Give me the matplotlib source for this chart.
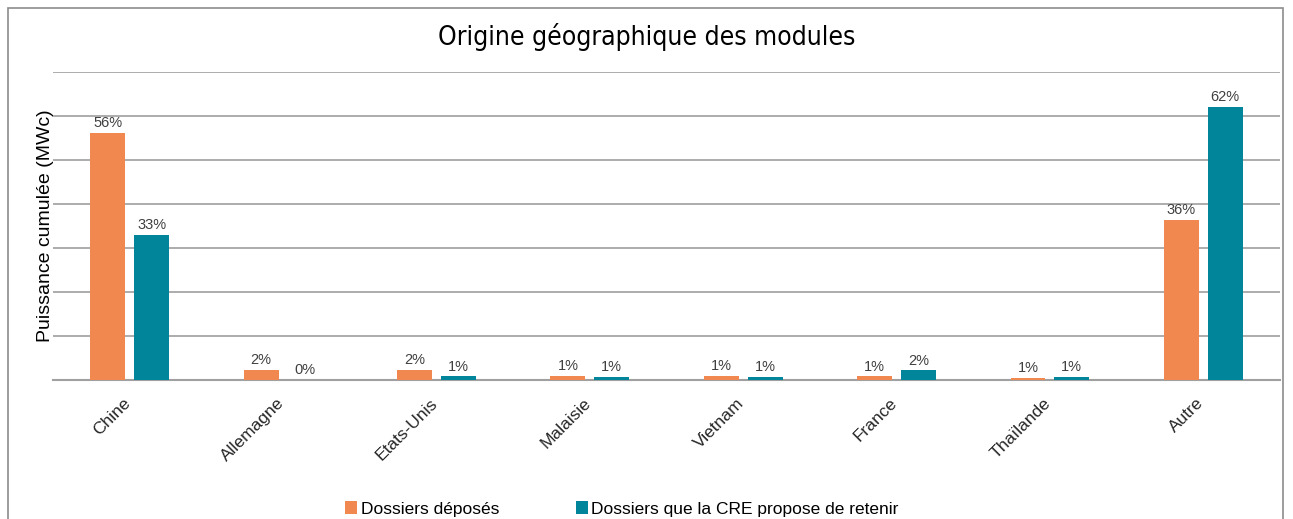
import numpy as np
import matplotlib.pyplot as plt
from matplotlib.patches import Rectangle
from matplotlib.transforms import ScaledTranslation

# donnees (% de la puissance cumulee)
pays = ['Chine', 'Allemagne', 'Etats-Unis', 'Malaisie', 'Vietnam', 'France', 'Thaïlande', 'Autre']
deposes = [56.1, 2.3, 2.3, 1.0, 1.0, 0.8, 0.5, 36.4]
retenus = [33.0, 0.0, 0.8, 0.7, 0.7, 2.2, 0.7, 62.0]
labels_deposes = ['56%', '2%', '2%', '1%', '1%', '1%', '1%', '36%']
labels_retenus = ['33%', '0%', '1%', '1%', '1%', '2%', '1%', '62%']

orange = '#F0884F'
teal = '#00859B'

plt.rcParams['font.family'] = ['Liberation Sans', 'DejaVu Sans']

fig = plt.figure(figsize=(12.93, 5.19), dpi=100)
ax = fig.add_axes([53/1293, 1-380/519, 1227/1293, 308/519])

x = np.arange(len(pays))
w = 0.228
d = 0.143
b1 = ax.bar(x - d, deposes, w, color=orange, label='Dossiers déposés', zorder=3)
b2 = ax.bar(x + d, retenus, w, color=teal, label='Dossiers que la CRE propose de retenir', zorder=3)

for rect, lab in zip(b1, labels_deposes):
    ax.annotate(lab, (rect.get_x() + rect.get_width()/2, rect.get_height()),
                xytext=(0, 2), textcoords='offset points', ha='center', va='bottom',
                fontsize=10.5, color='#404040')
for rect, lab in zip(b2, labels_retenus):
    ax.annotate(lab, (rect.get_x() + rect.get_width()/2, rect.get_height()),
                xytext=(0, 2), textcoords='offset points', ha='center', va='bottom',
                fontsize=10.5, color='#404040')

ax.set_xlim(-0.5, len(pays) - 0.5)
ax.set_ylim(0, 70)
ax.set_yticks(np.arange(0, 71, 10))
ax.set_yticklabels([])
ax.tick_params(axis='y', length=0)
ax.tick_params(axis='x', length=0, pad=11)
ax.grid(axis='y', color='#a6a6a6', linewidth=1.3, zorder=0)
for s in ['top', 'right', 'left']:
    ax.spines[s].set_visible(False)
ax.spines['bottom'].set_color('#a0a0a0')
ax.spines['bottom'].set_linewidth(1.5)
ax.set_xticks(x)
ax.set_xticklabels(pays, rotation=45, ha='right', rotation_mode='anchor', fontsize=12.5, color='#262626')
decal = ScaledTranslation(-7/100, 0, fig.dpi_scale_trans)
for t in ax.get_xticklabels():
    t.set_transform(t.get_transform() + decal)
ax.set_ylabel('Puissance cumulée (MWc)', fontsize=14, color='#000000', labelpad=-4)

fig.text(0.5, 1-37/519, 'Origine géographique des modules', ha='center', va='center',
         fontsize=19, family=['Liberation Sans Narrow', 'DejaVu Sans'], stretch='condensed')

fig.legend(loc='center', bbox_to_anchor=(0.481, 1-509/519), ncol=2, frameon=False,
           fontsize=12.5, handlelength=0.7, handleheight=0.7, handletextpad=0.2,
           columnspacing=4.4)

fig.patches.append(Rectangle((8/1293, -0.1), 1275/1293, 1.1 - 8/519, transform=fig.transFigure,
                             fill=False, edgecolor='#8c8c8c', linewidth=1.2))

fig.savefig('out.png', dpi=100)
